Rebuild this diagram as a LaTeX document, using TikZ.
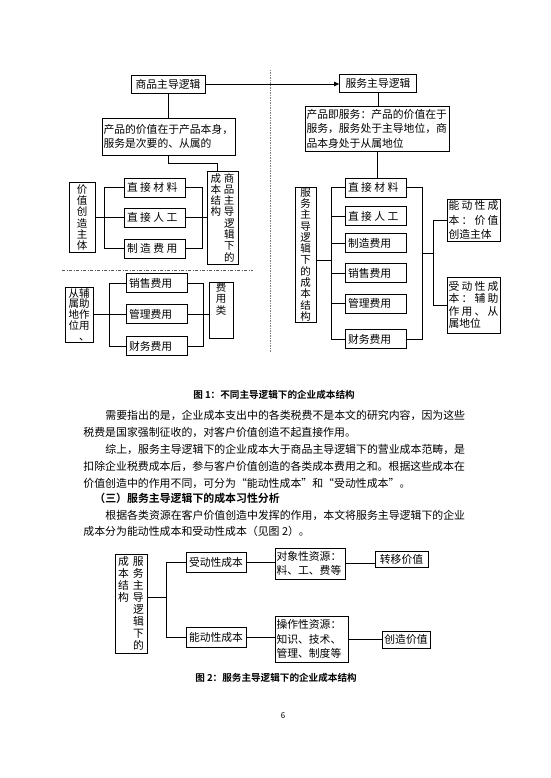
\documentclass[tikz,border=0pt]{standalone}
\usepackage{fontspec}
\setmainfont{Noto Sans CJK SC}[BoldFont={Noto Sans CJK SC Bold}]
\newfontfamily\spc{Noto Sans CJK SC}[LetterSpace=22]
\usetikzlibrary{arrows.meta}

\newcommand\figfs{\fontsize{10.8}{14.5}\selectfont}
\newcommand\vfs{\fontsize{10.5}{11.3}\selectfont\lineskiplimit=-20pt}
\newcommand\bodyfs{\fontsize{10.9}{16}\selectfont}
\newcommand\capfs{\fontsize{9.6}{11}\selectfont}
\newcommand\vv[3][3pt]{#2\hspace{#1}#3}

\begin{document}
\begin{tikzpicture}
  [x=1pt,y=-1pt,line width=0.8pt,
    box/.style={draw,inner sep=1.5pt,font=\figfs},
    fee/.style={box,minimum height=19pt,text width=56pt,inner xsep=2.5pt,align=left},
    vbox/.style={box,inner sep=0pt,align=center,font=\vfs},
    txt/.style={anchor=west,inner sep=0pt,font=\bodyfs},
    figcap/.style={inner sep=0pt,font=\capfs\bfseries},
  ]
  \useasboundingbox[fill=white] (0,0) rectangle (550,778);

  % figure 1, goods-dominant side
  \node[box,minimum width=74pt,minimum height=18pt] (sp) at (168,84) {商品主导逻辑};
  \node[box,minimum width=77pt,minimum height=18pt] (fw) at (378,83) {服务主导逻辑};
  \node[box,text width=130pt,minimum height=37pt,align=left] (t1) at (168.5,136.5)
    {产品的价值在于产品本身，\\服务是次要的、从属的};
  \node[vbox,minimum width=31pt,minimum height=93pt] (cb) at (222.5,217.5)
    {\vv{成}{商}\\\vv{本}{品}\\\vv{结}{主}\\\vv{构}{导}\\\vv{\quad}{逻}\\\vv{\quad}{辑}\\\vv{\quad}{下}\\\vv{\quad}{的}};
  \node[vbox,minimum width=26pt,minimum height=70pt] (jz) at (82,217.5) {价\\值\\创\\造\\主\\体};
  \node[fee] (m1) at (155,187.5) {\spc 直接材料};
  \node[fee] (m2) at (155,217.5) {\spc 直接人工};
  \node[fee] (m3) at (155,248.5) {\spc 制造费用};
  \draw (sp.south) -- (sp.south |- t1.north);
  \draw[-{Triangle[length=5pt,width=4.5pt]}] (sp.east) -- (sp.east -| fw.west);
  \draw (t1.south) -- ++(0,8) -| ([xshift=-5pt]cb.north);
  \draw (jz) -- (m2);
  \draw (m2) -- (cb);
  \draw (m1.west) -- ++(-20,0) |- (m3.west);
  \draw (m1.east) -- ++(16,0) |- (m3.east);
  \draw[gray!70!black,dash pattern=on 3pt off 1.5pt on 1pt off 1.5pt] (62,270) -- (253,270);
  \draw[gray,dash pattern=on 1.5pt off 1pt] (270,70) -- (270,352);

  \node[vbox,minimum width=28pt,minimum height=55pt,font=\vfs\fontsize{10.5}{10.8}\selectfont] (fs) at (79,314.5)
    {\vv[0pt]{从}{辅}\\\vv[0pt]{属}{助}\\\vv[0pt]{地}{作}\\\vv[0pt]{位}{用}\\\vv[0pt]{\quad}{、}};
  \node[fee] (x1) at (157,283) {销售费用};
  \node[fee] (x2) at (157,314) {管理费用};
  \node[fee] (x3) at (157,346) {财务费用};
  \node[vbox,minimum width=24pt,minimum height=53pt,text depth=24pt] (fy) at (221,310.5) {费\\用\\类};
  \draw (fs.east) -- (fs.east -| x2.west);
  \draw (x2.east) -- (x2.east -| fy.west);
  \draw (x1.west) -- ++(-17,0) |- (x3.west);
  \draw (x1.east) -- ++(15.5,0) |- (x3.east);

  % figure 1, service-dominant side
  \node[box,text width=141pt,minimum height=45pt,align=left] (t2) at (377,128.5)
    {产品即服务：产品的价值在于\\服务，服务处于主导地位，商\\品本身处于从属地位};
  \draw (fw.south) -- (fw.south |- t2.north);
  \foreach \n/\y/\t in {1/187.5/{\spc 直接材料},2/216/{\spc 直接人工},3/243/制造费用,
      4/273/销售费用,5/303.5/管理费用,6/339/财务费用}
    \node[fee] (r\n) at (376,\y) {\t};
  \draw (t2.south) -- (t2.south |- r1.north);
  \node[vbox,minimum width=21pt,minimum height=135pt] (rc) at (305.5,254.5)
    {服\\务\\主\\导\\逻\\辑\\下\\的\\成\\本\\结\\构};
  \draw ([yshift=-5.5pt]rc.east) -- ++(16,0);
  \draw (r1.west) -- ++(-13.5,0) |- (r6.west);
  \foreach \n in {2,...,5}
    \draw (r\n.west) -- ++(-13.5,0);
  \draw (r1.east) -- ++(15.5,0) |- (r6.east);
  \node[box,text width=50pt,minimum height=40pt,align=left] (nd) at (473.5,220)
    {能\hfill 动\hfill 性\hfill 成\\本\hfill ：\hfill 价\hfill 值\\创造主体};
  \node[box,text width=50pt,minimum height=56pt,align=left,font=\fontsize{10.8}{12.5}\selectfont] (sd) at (473.5,305)
    {受\hfill 动\hfill 性\hfill 成\\本\hfill ：\hfill 辅\hfill 助\\作\hfill 用\hfill 、\hfill 从\\属地位};
  \coordinate (rm) at (422,253);
  \draw (rm) -- ++(11.5,0);
  \draw (nd.west) -- ++(-13.5,0) |- (sd.west);

  \node[figcap] (c1) at (274,395) {图 1：不同主导逻辑下的企业成本结构};

  % body text
  \node[txt] (l1) at (105,415) {需要指出的是，企业成本支出中的各类税费不是本文的研究内容，因为这些};
  \node[txt] (l2) at (83,432) {税费是国家强制征收的，对客户价值创造不起直接作用。};
  \node[txt] (l3) at (105,449) {综上，服务主导逻辑下的企业成本大于商品主导逻辑下的营业成本范畴，是};
  \node[txt] (l4) at (83,466) {扣除企业税费成本后，参与客户价值创造的各类成本费用之和。根据这些成本在};
  \node[txt] (l5) at (83,483) {价值创造中的作用不同，可分为“能动性成本”和“受动性成本”。};
  \node[txt,font=\bodyfs\bfseries] (h3) at (94,498) {（三）服务主导逻辑下的成本习性分析};
  \node[txt] (l6) at (105,515) {根据各类资源在客户价值创造中发挥的作用，本文将服务主导逻辑下的企业};
  \node[txt] (l7) at (83,531) {成本分为能动性成本和受动性成本（见图 2）。};

  % figure 2
  \node[vbox,minimum width=32pt,minimum height=99pt,font=\vfs\fontsize{10.8}{12}\selectfont] (f2) at (131,603.5)
    {\vv[4pt]{成}{服}\\\vv[4pt]{本}{务}\\\vv[4pt]{结}{主}\\\vv[4pt]{构}{导}\\\vv[4pt]{\quad}{逻}\\\vv[4pt]{\quad}{辑}\\\vv[4pt]{\quad}{下}\\\vv[4pt]{\quad}{的}};
  \node[box,minimum width=60pt,minimum height=20pt] (sdc) at (216,562) {受动性成本};
  \node[box,minimum width=60pt,minimum height=20pt] (ndc) at (216,637) {能动性成本};
  \node[box,text width=67pt,minimum height=31pt,align=left] (dx) at (310,563.5) {对象性资源：\\料、工、费等};
  \node[box,minimum width=53pt,minimum height=16pt] (zy) at (401.5,559) {转移价值};
  \node[box,text width=70pt,minimum height=46pt,align=left] (cz) at (311.5,639) {操作性资源：\\知识、技术、\\管理、制度等};
  \node[box,minimum width=48pt,minimum height=17pt] (cv) at (406,639.5) {创造价值};
  \draw ([yshift=6.5pt]f2.east) -- ++(20,0);
  \draw (sdc.west) -- ++(-19,0) |- (ndc.west);
  \draw (sdc.east) -- (sdc.east -| dx.west);
  \draw (dx.east) -- (dx.east -| zy.west);
  \draw (ndc.east) -- (ndc.east -| cz.west);
  \draw (cz.east) -- (cz.east -| cv.west);

  \node[figcap] (c2) at (276,678) {图 2：服务主导逻辑下的企业成本结构};
  \node[inner sep=0pt,font=\fontsize{8}{9}\selectfont] (pg) at (283,716) {6};
\end{tikzpicture}
\end{document}
